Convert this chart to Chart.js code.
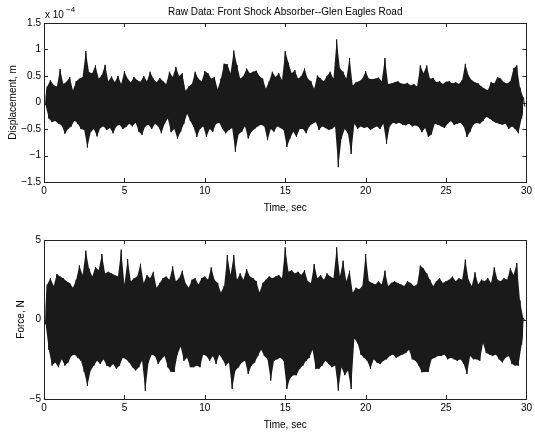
<!DOCTYPE html>
<html>
<head>
<meta charset="utf-8">
<script src="https://cdn.jsdelivr.net/npm/chart.js@4.4.0/dist/chart.umd.min.js"></script>
<style>
  body { margin: 0; background: #fff; }
  canvas { position: absolute; left: 0; }
  #grafTopo { top: 0; }
  #grafBaixo { top: 217px; }
</style>
</head>
<body>
<canvas id="grafTopo" width="535" height="217"></canvas>
<canvas id="grafBaixo" width="535" height="217"></canvas>
<script>
// envelope of the raw signal, one max and one min per 0.2 s bin
var binStep = 0.2;

// displacement, units of 1e-4 m
var dispMax = [
  0.05, 0.30, 0.42, 0.33, 0.30,  0.63, 0.35, 0.39, 0.48, 0.23,
  0.40, 0.45, 0.48, 0.97, 0.57,  0.55, 0.70, 0.45, 0.52, 0.71,
  0.40, 0.49, 0.38, 0.50, 0.35,  0.59, 0.45, 0.38, 0.48, 0.42,
  0.39, 0.50, 0.40, 0.58, 0.45,  0.38, 0.46, 0.40, 0.35, 0.58,
  0.48, 0.67, 0.50, 0.55, 0.22,  0.30, 0.35, 0.58, 0.45, 0.40,
  0.59, 0.55, 0.45, 0.48, 0.25,  0.45, 0.73, 0.72, 0.55, 0.98,
  0.71, 0.45, 0.50, 0.64, 0.55,  0.58, 0.60, 0.50, 0.45, 0.26,
  0.40, 0.58, 0.48, 0.55, 0.42,  0.97, 0.75, 0.55, 0.61, 0.45,
  0.50, 0.64, 0.45, 0.40, 0.26,  0.51, 0.45, 0.40, 0.50, 0.58,
  0.45, 1.19, 0.64, 0.58, 0.45,  0.84, 0.32, 0.38, 0.40, 0.45,
  0.59, 0.45, 0.44, 0.45, 0.47,  0.40, 0.84, 0.35, 0.36, 0.38,
  0.40, 0.36, 0.35, 0.37, 0.32,  0.35, 0.30, 0.70, 0.55, 0.70,
  0.45, 0.46, 0.38, 0.40, 0.35,  0.39, 0.40, 0.36, 0.38, 0.35,
  0.42, 0.73, 0.51, 0.42, 0.38,  0.36, 0.30, 0.26, 0.23, 0.38,
  0.36, 0.48, 0.45, 0.38, 0.36,  0.40, 0.64, 0.70, 0.28, 0.10
];
var dispMin = [
  -0.05, -0.30, -0.37, -0.35, -0.40,  -0.43, -0.59, -0.50, -0.45, -0.34,
  -0.40, -0.50, -0.52, -0.85, -0.56,  -0.50, -0.64, -0.48, -0.45, -0.52,
  -0.48, -0.58, -0.45, -0.42, -0.50,  -0.46, -0.40, -0.45, -0.38, -0.55,
  -0.61, -0.45, -0.42, -0.50, -0.40,  -0.45, -0.58, -0.40, -0.30, -0.56,
  -0.50, -0.68, -0.55, -0.40, -0.21,  -0.35, -0.46, -0.65, -0.50, -0.45,
  -0.65, -0.50, -0.55, -0.40, -0.38,  -0.50, -0.58, -0.52, -0.48, -0.93,
  -0.60, -0.55, -0.45, -0.68, -0.55,  -0.50, -0.45, -0.42, -0.45, -0.71,
  -0.50, -0.55, -0.45, -0.48, -0.52,  -0.84, -0.68, -0.55, -0.65, -0.50,
  -0.50, -0.58, -0.45, -0.40, -0.37,  -0.52, -0.45, -0.48, -0.52, -0.50,
  -0.45, -1.22, -0.68, -0.50, -0.58,  -0.97, -0.40, -0.50, -0.45, -0.48,
  -0.46, -0.52, -0.48, -0.45, -0.50,  -0.40, -0.78, -0.45, -0.38, -0.40,
  -0.38, -0.42, -0.43, -0.40, -0.45,  -0.43, -0.46, -0.56, -0.48, -0.65,
  -0.60, -0.40, -0.42, -0.45, -0.48,  -0.40, -0.35, -0.42, -0.40, -0.38,
  -0.45, -0.65, -0.55, -0.42, -0.38,  -0.40, -0.35, -0.27, -0.30, -0.35,
  -0.38, -0.40, -0.42, -0.40, -0.50,  -0.45, -0.50, -0.58, -0.30, -0.08
];

// force, N
var forcaMax = [
  0.2, 2.2, 2.6, 2.1, 2.86,  2.7, 2.6, 2.4, 2.3, 2.0,
  2.5, 3.4, 2.8, 4.33, 3.2,  2.7, 3.3, 3.1, 4.12, 2.9,
  3.0, 2.9, 2.8, 2.7, 4.39,  2.2, 3.8, 2.4, 2.6, 2.7,
  3.5, 2.3, 2.8, 2.6, 3.0,   2.0, 2.3, 2.6, 2.7, 2.5,
  3.34, 2.4, 2.6, 3.07, 2.3, 2.0, 2.5, 2.6, 2.2, 2.6,
  2.7, 2.5, 3.28, 2.5, 2.3,  1.7, 2.1, 4.06, 2.8, 4.06,
  2.5, 2.9, 2.5, 3.17, 2.7,  2.6, 2.4, 1.7, 2.3, 2.5,
  2.7, 2.6, 2.7, 2.8, 2.6,   4.54, 3.0, 3.1, 2.9, 3.0,
  2.8, 3.1, 2.4, 2.3, 3.49,  2.6, 2.8, 2.5, 2.9, 2.7,
  2.6, 4.54, 2.7, 3.7, 2.4,  3.07, 1.7, 2.0, 1.9, 2.1,
  4.12, 2.4, 2.3, 2.2, 2.4,  2.2, 3.07, 2.1, 2.3, 2.4,
  2.3, 2.2, 2.1, 2.4, 2.3,   2.1, 2.2, 3.39, 3.2, 2.9,
  2.5, 2.1, 2.4, 2.6, 2.3,   2.4, 2.5, 2.7, 2.4, 2.6,
  2.5, 3.77, 2.5, 2.1, 2.97, 2.2, 2.5, 2.4, 2.6, 2.3,
  3.28, 2.5, 2.4, 2.6, 2.5,  3.22, 2.8, 3.55, 1.2, 0.1
];
var forcaMin = [
  -0.3, -1.9, -2.9, -2.7, -3.0,   -2.5, -2.9, -2.7, -2.3, -2.2,
  -2.4, -2.6, -3.3, -4.17, -3.2,  -2.9, -2.6, -2.8, -2.5, -2.9,
  -3.0, -2.8, -3.1, -2.9, -2.4,   -2.5, -2.7, -3.0, -3.2, -3.0,
  -2.6, -4.48, -2.7, -2.2, -2.3,  -2.8, -2.5, -2.3, -3.0, -3.3,
  -3.3, -2.2, -1.7, -2.6, -2.4,   -3.0, -3.0, -2.9, -3.0, -2.2,
  -2.3, -2.6, -2.3, -2.8, -2.2,   -2.5, -2.9, -2.7, -4.37, -3.2,
  -3.0, -2.7, -2.6, -3.43, -2.9,  -2.7, -2.3, -1.9, -2.3, -2.5,
  -3.85, -2.6, -2.5, -2.4, -2.6,  -4.37, -3.7, -3.5, -3.5, -3.1,
  -2.9, -2.6, -2.4, -1.9, -3.1,   -3.1, -2.9, -2.6, -2.8, -3.0,
  -2.9, -4.47, -3.0, -3.5, -3.2,  -4.37, -1.2, -1.5, -2.2, -2.4,
  -2.6, -3.1, -2.5, -2.7, -2.8,   -2.6, -2.5, -2.3, -2.2, -2.4,
  -2.3, -2.2, -2.1, -1.9, -2.5,   -2.6, -2.9, -3.32, -3.3, -3.3,
  -2.5, -2.4, -2.3, -2.3, -2.2,   -2.5, -2.4, -2.5, -2.6, -2.5,
  -2.8, -3.43, -2.3, -2.5, -2.5,  -2.6, -1.5, -2.1, -2.2, -2.3,
  -2.2, -2.5, -2.7, -2.4, -2.3,   -2.8, -2.9, -2.9, -1.6, -0.1
];

var tempoTicks = [0, 5, 10, 15, 20, 25, 30];
var dispTicks = [-1.5, -1, -0.5, 0, 0.5, 1, 1.5];
var forcaTicks = [-5, 0, 5];

var titulo = 'Raw Data: Front Shock Absorber--Glen Eagles Road';
var fonte = '"Liberation Sans", Helvetica, Arial, sans-serif';
var corTraco = '#1a1a1a';

function pontosMax(maximos) {
  return maximos.map(function (v, i) { return { x: i * binStep, y: v }; });
}
function pontosMin(minimos) {
  return minimos.map(function (v, i) { return { x: i * binStep + binStep / 2, y: v }; });
}
// max / min of each bin as one zigzag trace
function pontosZigue(maximos, minimos) {
  var pts = [];
  for (var i = 0; i < maximos.length; i++) {
    pts.push({ x: i * binStep, y: maximos[i] });
    pts.push({ x: i * binStep + binStep / 2, y: minimos[i] });
  }
  return pts;
}

function rotulo(v) {
  return String(v).replace('-', '\u2212');
}

// matlab style box with inward ticks
var caixa = {
  id: 'caixa',
  afterDraw: function (chart) {
    var ctx = chart.ctx;
    var a = chart.chartArea;
    var sx = chart.scales.x, sy = chart.scales.y;
    ctx.save();
    ctx.strokeStyle = '#222';
    ctx.lineWidth = 1;
    ctx.strokeRect(Math.round(a.left) + 0.5, Math.round(a.top) + 0.5,
      Math.round(a.right - a.left), Math.round(a.bottom - a.top));
    ctx.beginPath();
    sx.ticks.forEach(function (t) {
      var px = Math.round(sx.getPixelForValue(t.value)) + 0.5;
      ctx.moveTo(px, a.bottom); ctx.lineTo(px, a.bottom - 4);
      ctx.moveTo(px, a.top); ctx.lineTo(px, a.top + 4);
    });
    sy.ticks.forEach(function (t) {
      var py = Math.round(sy.getPixelForValue(t.value)) + 0.5;
      ctx.moveTo(a.left, py); ctx.lineTo(a.left + 4, py);
      ctx.moveTo(a.right, py); ctx.lineTo(a.right - 4, py);
    });
    ctx.stroke();
    ctx.restore();
  }
};

var textos = {
  id: 'textos',
  afterDraw: function (chart) {
    if (chart.canvas.id !== 'grafTopo') return;
    var ctx = chart.ctx;
    var a = chart.chartArea;
    ctx.save();
    ctx.fillStyle = '#000';
    ctx.font = '10px ' + fonte;
    ctx.textBaseline = 'middle';
    ctx.textAlign = 'center';
    ctx.fillText(titulo, (a.left + a.right) / 2, 12);
    ctx.textAlign = 'left';
    ctx.fillText('x 10', a.left + 1, 15);
    ctx.font = '8px ' + fonte;
    ctx.fillText('\u22124', a.left + 22, 10);
    ctx.restore();
  }
};

function criarGrafico(id, maximos, minimos, yMin, yMax, yTicks, yTitulo, yTituloPad) {
  return new Chart(document.getElementById(id), {
    type: 'line',
    data: {
      datasets: [
        { data: pontosMax(maximos), borderWidth: 0, borderColor: corTraco, backgroundColor: corTraco,
          pointRadius: 0, tension: 0, fill: '+1' },
        { data: pontosMin(minimos), borderWidth: 0, borderColor: corTraco,
          pointRadius: 0, tension: 0, fill: false },
        { data: pontosZigue(maximos, minimos), borderColor: corTraco, borderWidth: 1,
          pointRadius: 0, tension: 0, fill: false }
      ]
    },
    options: {
      responsive: false,
      animation: false,
      layout: { padding: { top: 23, right: 4, left: 0, bottom: 0 } },
      plugins: { legend: { display: false }, tooltip: { enabled: false }, title: { display: false } },
      scales: {
        x: {
          type: 'linear',
          min: 0,
          max: 30,
          afterBuildTicks: function (s) { s.ticks = tempoTicks.map(function (v) { return { value: v }; }); },
          afterFit: function (s) { s.height = 35; },
          grid: { display: false, drawTicks: false },
          border: { display: false },
          ticks: { color: '#000', font: { family: fonte, size: 10 }, padding: 3, maxRotation: 0,
                   callback: function (v) { return rotulo(v); } },
          title: { display: true, text: 'Time, sec', color: '#000', font: { family: fonte, size: 10 }, padding: { top: 2, bottom: 3 } }
        },
        y: {
          min: yMin,
          max: yMax,
          afterBuildTicks: function (s) { s.ticks = yTicks.map(function (v) { return { value: v }; }); },
          afterFit: function (s) { s.width = 44; },
          grid: { display: false, drawTicks: false },
          border: { display: false },
          ticks: { color: '#000', font: { family: fonte, size: 10 }, padding: 3,
                   callback: function (v) { return rotulo(v); } },
          title: { display: true, text: yTitulo, color: '#000', font: { family: fonte, size: 10 }, padding: { top: yTituloPad, bottom: 0 } }
        }
      }
    },
    plugins: [caixa, textos]
  });
}

criarGrafico('grafTopo', dispMax, dispMin, -1.5, 1.5, dispTicks, 'Displacement, m', 7);
criarGrafico('grafBaixo', forcaMax, forcaMin, -5, 5, forcaTicks, 'Force, N', 15);
</script>
</body>
</html>
